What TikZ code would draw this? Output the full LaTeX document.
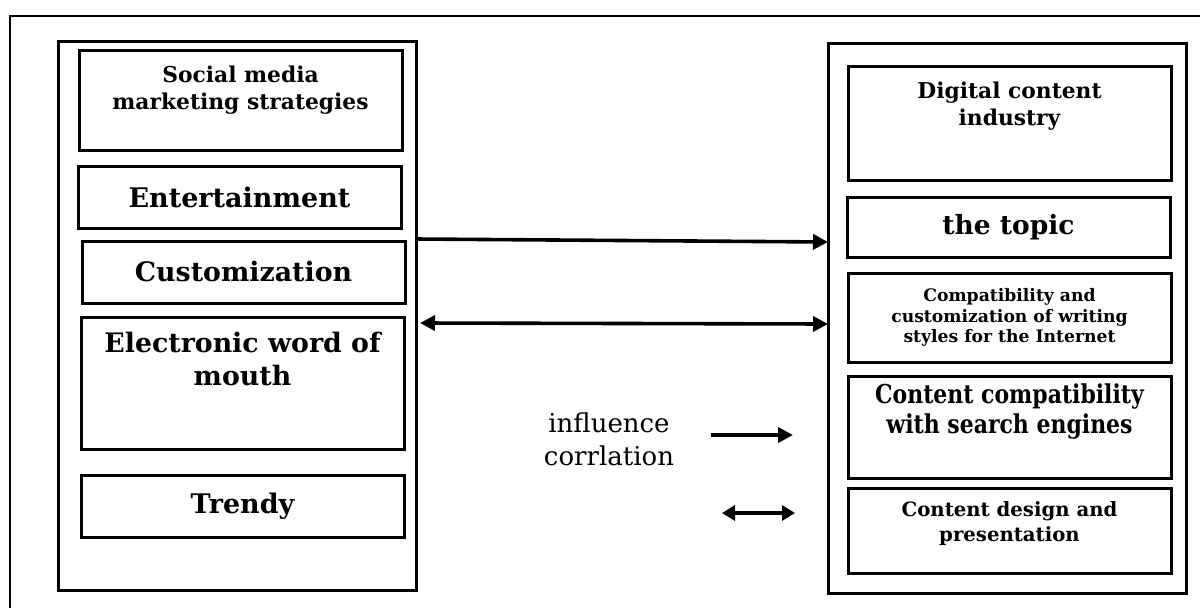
\documentclass[tikz,border=0pt]{standalone}
\usepackage{fontspec}
\setmainfont{DejaVu Serif}
\usetikzlibrary{arrows.meta,calc}
\newcommand\myfs[2]{\fontsize{#1}{#2}\selectfont}
\begin{document}
\begin{tikzpicture}[x=1pt,y=-1pt,
  frame/.style={line width=2.8pt},
  box/.style={draw, line width=3pt, inner sep=0pt, outer sep=0pt, align=center, font=\bfseries},
  lbl/.style={inner sep=0pt, outer sep=0pt, align=center, font=\bfseries, anchor=north},
  arr/.style={line width=3.6pt, -{Triangle[length=15pt,width=15pt]}},
  darr/.style={line width=3.6pt, {Triangle[length=15pt,width=15pt]}-{Triangle[length=15pt,width=15pt]}},
  larr/.style={line width=4pt, -{Triangle[length=15pt,width=15pt]}},
  ldarr/.style={line width=3.2pt, {Triangle[length=13pt,width=15pt]}-{Triangle[length=13pt,width=15pt]}},
]
\useasboundingbox (0,0) rectangle (1200,608);
% outer frame (runs off the page to the right and bottom)
\draw[frame] (1210,16) -- (10,16) -- (10,620);

% left container
\node[box, minimum width=358pt, minimum height=549pt] (L) at (237,315.5) {};
\node[box, minimum width=323pt, minimum height=100pt] (sm) at (240.5,100) {};
\node[lbl, font=\bfseries\myfs{21.8}{27}] (smt) at (240.5,66) {Social media\\marketing strategies};
\node[box, minimum width=323pt, minimum height=62pt, font=\bfseries\myfs{27}{33}] (ent) at (239.5,197) {Entertainment};
\node[box, minimum width=323pt, minimum height=62pt, font=\bfseries\myfs{26.8}{33}] (cus) at (243.5,272) {Customization};
\node[box, minimum width=323pt, minimum height=132pt] (ew) at (242.5,383) {};
\node[lbl, font=\bfseries\myfs{26.8}{33}] (ewt) at (242.5,332) {Electronic word of\\mouth};
\node[box, minimum width=323pt, minimum height=62pt, font=\bfseries\myfs{27}{33}] (tr) at (242.5,506) {Trendy};

% right container
\node[box, minimum width=358pt, minimum height=550pt] (R) at (1007,318) {};
\node[box, minimum width=323pt, minimum height=114pt] (dc) at (1009.5,123) {};
\node[lbl, font=\bfseries\myfs{21.8}{27}] (dct) at (1009.5,82) {Digital content\\industry};
\node[box, minimum width=323pt, minimum height=60pt, font=\bfseries\myfs{26.5}{33}] (top) at (1008.5,227) {the topic};
\node[box, minimum width=323pt, minimum height=89pt, font=\bfseries\myfs{17.2}{20.5}] (cmp) at (1009.5,317.5) {Compatibility and\\customization of writing\\styles for the Internet};
\node[box, minimum width=323pt, minimum height=102pt] (cc) at (1009.5,427) {};
\node[lbl, font=\bfseries\myfs{26}{30}\addfontfeatures{FakeStretch=0.845}] (cct) at (1009.5,384) {Content compatibility\\with search engines};
\node[box, minimum width=323pt, minimum height=85pt] (cd) at (1009.5,530.5) {};
\node[lbl, font=\bfseries\myfs{19.7}{25}] (cdt) at (1009.5,502) {Content design and\\presentation};

% connectors between the containers
\draw[arr] ($(L.east)+(0,-76.5)$) -- ($(R.west)+(0,-76)$);
\draw[darr] ($(L.east)+(4,7.5)$) -- ($(R.west)+(0,6)$);

% legend
\node[inner sep=0pt, anchor=north, align=center, font=\myfs{26}{33}] (leg) at (609,413) {influence\\corrlation};
\coordinate (i1) at (711,435);
\coordinate (i2) at (793,435);
\draw[larr] (i1) -- (i2);
\coordinate (c1) at (722,513);
\coordinate (c2) at (795,513);
\draw[ldarr] (c1) -- (c2);
\end{tikzpicture}
\end{document}
